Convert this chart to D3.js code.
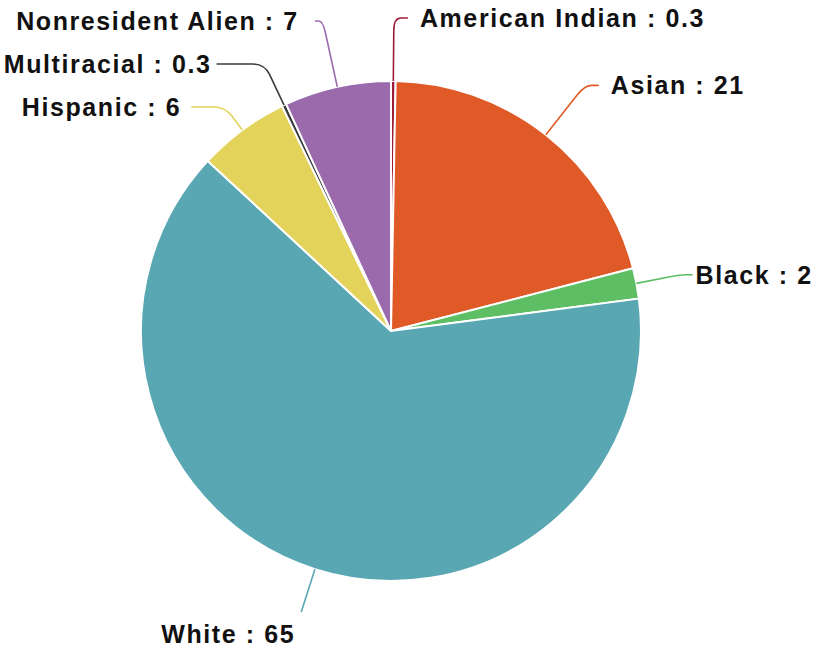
<!DOCTYPE html>
<html>
<head>
<meta charset="utf-8">
<script src="https://cdn.jsdelivr.net/npm/d3@7"></script>
<style>
  html, body { margin: 0; padding: 0; background: #fff; }
  svg { display: block; }
  .slice-label {
    font-family: "Liberation Sans", Arial, Helvetica, sans-serif;
    font-weight: bold;
    font-size: 25px;
    letter-spacing: 1.6px;
    fill: #111;
  }
</style>
</head>
<body>
<div id="chart"></div>
<script>
// Data (clockwise from 12 o'clock)
const categories = ['American Indian', 'Asian', 'Black', 'White', 'Hispanic', 'Multiracial', 'Nonresident Alien'];
const values = [0.3, 21, 2, 65, 6, 0.3, 7];
const colors = ['#9c1d3a', '#e05a27', '#5dbe63', '#58a7b3', '#e3d35b', '#3b3b3b', '#9b6aad'];

// Label nudges (layout only)
const labelTweaks = {
    'American Indian': { dy: -18 },
    'Asian': { dy: -14 },
    'Black': { gap: 3, len2: 12 },
    'Multiracial': { dy: -3, len2: 48, gap: 5 },
    'Hispanic': { dy: -4, len2: 34, gap: 10 },
    'Nonresident Alien': { dy: -2, len2: 8, gap: 16 },
    'White': { below: true }
};

const width = 817, height = 647;
const cx = 391, cy = 331, radius = 250;
const len1 = 45, len2 = 14, gap = 12, minGap = 44;

const svg = d3.select('#chart').append('svg')
    .attr('width', width)
    .attr('height', height);

const g = svg.append('g').attr('transform', `translate(${cx},${cy})`);

const data = categories.map((c, i) => ({ name: c, value: values[i], color: colors[i] }));

const pie = d3.pie().sort(null).value(d => d.value);
const arcs = pie(data);

const arc = d3.arc().innerRadius(0).outerRadius(radius);

// Slices
g.selectAll('path.slice')
    .data(arcs)
    .enter().append('path')
    .attr('class', 'slice')
    .attr('d', arc)
    .attr('fill', d => d.data.color)
    .attr('stroke', '#fff')
    .attr('stroke-width', 2);

// Label layout
const labels = arcs.map(a => {
    const mid = (a.startAngle + a.endAngle) / 2;
    const ux = Math.sin(mid), uy = -Math.cos(mid);
    return {
        a, mid, ux, uy,
        side: ux >= 0 ? 1 : -1,
        edge: [ux * radius, uy * radius],
        y: uy * (radius + len1),
        tweak: labelTweaks[a.data.name] || {}
    };
});

// Push apart overlapping labels on each side
[1, -1].forEach(side => {
    const group = labels.filter(l => l.side === side && !l.tweak.below).sort((p, q) => p.y - q.y);
    let clusters = [];
    group.forEach(l => {
        const last = clusters[clusters.length - 1];
        if (last && l.y - last[last.length - 1].y < minGap) last.push(l);
        else clusters.push([l]);
    });
    clusters.forEach(cl => {
        if (cl.length < 2) return;
        const mean = d3.mean(cl, l => l.y);
        cl.forEach((l, i) => { l.y = mean + (i - (cl.length - 1) / 2) * minGap; });
    });
});

labels.forEach(l => {
    if (l.tweak.dy) l.y += l.tweak.dy;
    if (l.tweak.below) {
        l.elbow = [l.ux * (radius + len1), l.uy * (radius + len1)];
        l.end = l.elbow;
        return;
    }
    // elbow on radial ray at label height
    const t = (l.y - l.edge[1]) / l.uy;
    const dist = Math.max(t, 12);
    l.elbow = [l.edge[0] + l.ux * dist, l.edge[1] + l.uy * dist];
    l.end = [l.elbow[0] + l.side * (l.tweak.len2 || len2), l.elbow[1]];
});

function leaderPath(l) {
    const [x0, y0] = l.edge, [x1, y1] = l.elbow, [x2, y2] = l.end;
    if (x1 === x2 && y1 === y2) return `M${x0},${y0}L${x1},${y1}`;
    const r = 12;
    const d1 = Math.hypot(x1 - x0, y1 - y0), d2 = Math.hypot(x2 - x1, y2 - y1);
    const k1 = Math.min(r, d1 / 2) / d1, k2 = Math.min(r, d2 / 2) / d2;
    const ax = x1 - (x1 - x0) * k1, ay = y1 - (y1 - y0) * k1;
    const bx = x1 + (x2 - x1) * k2, by = y1 + (y2 - y1) * k2;
    return `M${x0},${y0}L${ax},${ay}Q${x1},${y1} ${bx},${by}L${x2},${y2}`;
}

g.selectAll('path.leader')
    .data(labels)
    .enter().append('path')
    .attr('class', 'leader')
    .attr('d', leaderPath)
    .attr('fill', 'none')
    .attr('stroke', d => d.a.data.color)
    .attr('stroke-width', 1.6);

g.selectAll('text.slice-label')
    .data(labels)
    .enter().append('text')
    .attr('class', 'slice-label')
    .attr('x', d => d.tweak.below ? d.end[0] - 73 : d.end[0] + d.side * (d.tweak.gap || gap))
    .attr('y', d => d.tweak.below ? d.end[1] + 22 : d.end[1])
    .attr('dy', '0.35em')
    .attr('text-anchor', d => d.tweak.below ? 'middle' : (d.side > 0 ? 'start' : 'end'))
    .text(d => `${d.a.data.name} : ${d.a.data.value}`);
</script>
</body>
</html>
